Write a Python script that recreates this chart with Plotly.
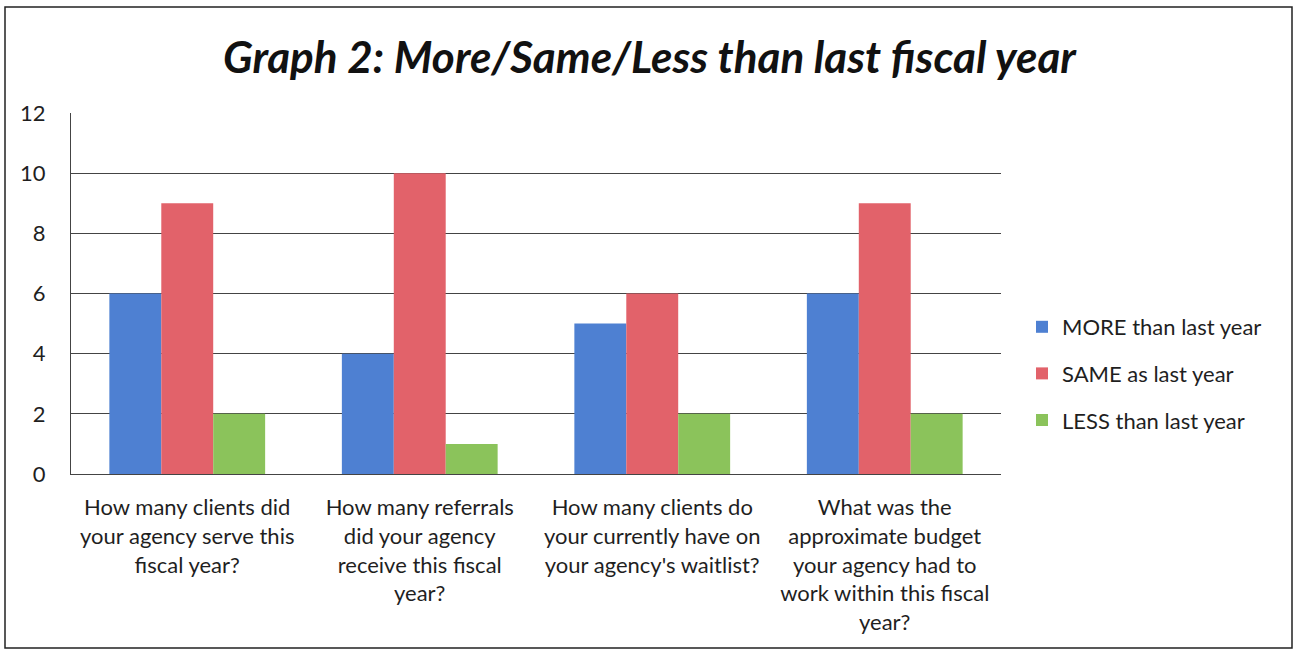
import plotly.graph_objects as go

# Survey questions (category axis)
categories = [
    "How many clients did<br>your agency serve this<br>fiscal year?",
    "How many referrals<br>did your agency<br>receive this fiscal<br>year?",
    "How many clients do<br>your currently have on<br>your agency's waitlist?",
    "What was the<br>approximate budget<br>your agency had to<br>work within this fiscal<br>year?",
]

# Response counts per answer
more_than_last_year = [6, 4, 5, 6]
same_as_last_year = [9, 10, 6, 9]
less_than_last_year = [2, 1, 2, 2]

series_names = ["MORE than last year", "SAME as last year", "LESS than last year"]
series_values = [more_than_last_year, same_as_last_year, less_than_last_year]
series_colors = ["#4E80D2", "#E2626A", "#8BC35B"]

y_ticks = [0, 2, 4, 6, 8, 10, 12]

FONT = "Lato"
W, H = 1299, 653
L, R, T, B = 71, 298, 113, 179  # margins -> plot area 71..1001 x 113..474

fig = go.Figure()
for name, vals, col in zip(series_names, series_values, series_colors):
    fig.add_trace(go.Bar(
        x=categories, y=vals, name=name, legendgroup=name,
        marker=dict(color=col, line=dict(width=0)),
    ))

pw, ph = W - L - R, H - T - B

def px_x(p):
    return (p - L) / pw

def px_y(p):
    return (H - B - p) / ph

fig.update_layout(
    width=W, height=H,
    margin=dict(l=L, r=R, t=T, b=B),
    paper_bgcolor="white", plot_bgcolor="white",
    font=dict(family=FONT, size=22, color="#1f1f1f"),
    barmode="group", bargap=0.33, bargroupgap=0,
    title=dict(
        text="Graph 2: More/Same/Less than last fiscal year",
        x=0.5, xref="container", xanchor="center",
        y=1 - 58 / H, yref="container", yanchor="middle",
        font=dict(family=FONT, size=44, weight="bold", style="italic", color="#111111"),
    ),
    legend=dict(
        x=px_x(1022), xanchor="left",
        y=px_y(306), yanchor="top",
        font=dict(family=FONT, size=22, color="#1f1f1f"),
        tracegroupgap=15, itemwidth=30,
        bgcolor="rgba(0,0,0,0)",
    ),
    showlegend=True,
    xaxis=dict(
        showline=True, linecolor="#444444", linewidth=1,
        showgrid=False, ticks="", ticklabelstandoff=14,
        tickfont=dict(family=FONT, size=22, color="#1f1f1f"),
    ),
    yaxis=dict(
        range=[0, 12], tickvals=y_ticks, ticktext=[str(v) for v in y_ticks],
        showline=True, linecolor="#444444", linewidth=1,
        showgrid=True, gridcolor="#444444", gridwidth=1,
        zeroline=False, ticks="", ticklabelstandoff=20,
        tickfont=dict(family=FONT, size=22, color="#1f1f1f"),
    ),
    shapes=[dict(
        type="rect", xref="paper", yref="paper",
        x0=px_x(5), x1=px_x(1292), y0=px_y(648), y1=px_y(7),
        line=dict(color="#222222", width=1.5), fillcolor="rgba(0,0,0,0)",
        layer="below",
    )],
)

fig.write_html("out.html")
